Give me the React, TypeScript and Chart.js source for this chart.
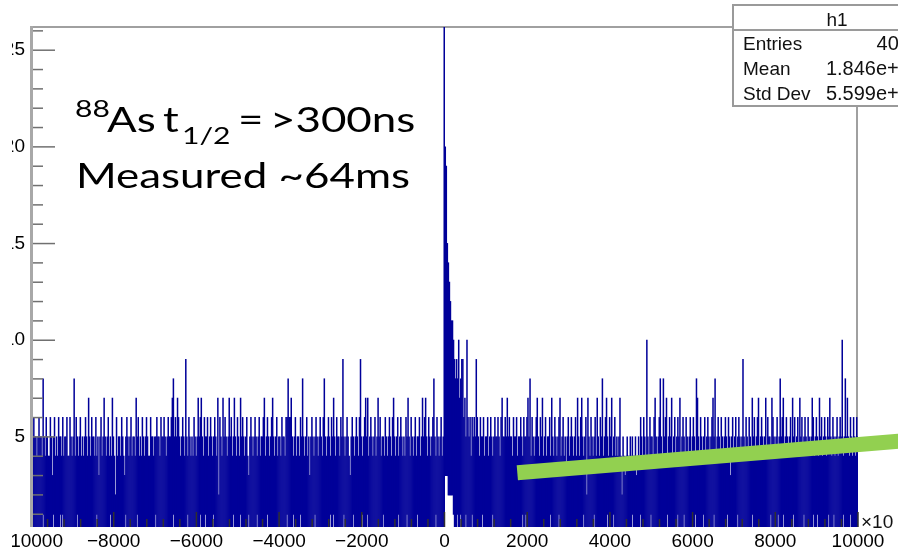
import React, { useEffect, useRef } from 'react';
import { Chart, registerables } from 'chart.js';

Chart.register(...registerables);

// ---- axis ranges -------------------------------------------------------
const X_MIN = -10000;
const X_MAX = 10000;
const Y_MIN = 0.34;
const Y_MAX = 26.2;

// ---- histogram h1: counts per 25-unit bin ------------------------------
// bins -10000 .. -5000
const countsLeftA = [
  5,5,6,5,5,4,5,6,5,5, 4,8,5,4,6,5,4,4,6,5, 3,5,6,4,5,4,6,5,5,4, 6,4,5,5,6,4,4,6,5,4,
  5,8,4,6,5,4,5,6,4,5, 4,5,6,5,4,7,5,4,6,5, 5,4,6,4,5,3,5,6,4,5, 7,5,4,5,6,4,5,4,7,5,
  4,2,6,4,5,5,4,6,5,4, 3,5,6,5,4,5,6,4,5,5, 4,7,5,6,4,5,4,6,5,4, 5,6,5,4,4,6,5,5,4,5,
  5,6,5,5,4,6,5,5,6,5, 4,5,6,5,5,6,7,8,5,6, 5,7,6,5,4,5,6,5,4,9, 5,4,6,5,4,5,4,6,5,4,
  5,7,5,6,7,5,4,6,5,5, 6,4,5,6,5,4,5,6,5,4, 7,2,6,5,4,7,5,6,5,4, 5,7,5,6,4,5,7,5,4,6,
];
// bins -5000 .. 0
const countsLeftB = [
  5,4,7,5,6,5,4,5,6,4, 3,5,6,5,4,5,6,5,4,5, 6,4,5,5,6,7,4,5,6,5, 4,5,6,7,5,4,5,6,4,5,
  5,4,6,5,5,4,6,6,8,6, 6,7,5,4,5,6,4,5,5,4, 6,5,8,5,4,5,6,4,5,3, 5,6,5,4,5,6,5,4,5,6,
  5,4,6,8,5,4,5,6,5,4, 6,5,7,5,4,6,5,5,4,6, 5,9,5,4,5,6,5,4,3,5, 6,5,4,5,6,5,4,6,9,5,
  4,5,6,7,5,7,4,5,6,5, 4,5,6,4,5,7,5,6,4,5, 5,4,6,5,4,5,6,5,4,6, 7,5,4,5,6,4,5,6,5,4,
  5,4,6,5,7,5,4,6,5,4, 5,6,4,5,5,6,4,5,7,5, 6,7,5,4,6,5,4,5,6,8, 5,4,6,5,4,5,6,4,5,28,
];
// bins 0 .. 5000
const countsRightA = [
  20,19,15,14,13,12,11,11,10,9, 8,9,8,10,7,8,9,9,6,7, 5,10,6,5,6,4,6,5,6,5, 9,6,5,4,6,5,5,6,4,5,
  5,6,4,5,6,5,4,5,6,5, 5,6,5,4,6,7,5,5,6,5, 7,5,6,5,5,4,6,5,5,6, 4,5,5,6,5,4,6,5,5,6,
  7,5,8,4,6,5,4,5,6,7, 5,4,6,5,7,4,5,6,4,5, 5,6,4,7,5,4,6,5,4,5, 6,7,4,5,6,4,5,3,5,6,
  4,5,6,5,4,5,6,4,7,5, 4,6,7,5,4,5,6,2,7,5, 4,6,5,4,5,6,4,7,5,4, 6,5,8,4,5,6,7,5,4,6,
  5,7,4,5,6,4,5,4,5,7, 4,2,5,4,3,4,5,4,4,5, 4,5,4,4,5,3,4,5,4,6, 5,4,6,5,4,10,5,4,6,5,
];
// bins 5000 .. 10000
const countsRightB = [
  5,4,6,7,5,4,5,6,8,5, 4,8,5,6,7,4,5,6,5,7, 4,5,6,4,5,6,5,7,4,5, 6,5,4,6,5,4,5,6,4,5,
  6,5,4,8,7,5,4,6,5,4, 5,6,4,5,6,5,4,5,6,7, 5,8,4,5,6,5,4,6,5,4, 5,6,5,4,6,5,3,5,6,4,
  5,6,4,5,6,5,4,5,9,5, 4,6,5,4,6,5,4,7,5,6, 4,5,6,7,4,5,6,5,4,5, 7,4,6,5,5,4,7,6,5,4,
  5,6,4,5,8,5,6,7,4,5, 6,5,4,5,6,4,7,5,6,4, 5,6,4,7,5,6,4,5,6,5, 4,6,5,4,5,7,6,4,5,6,
  5,4,7,5,6,4,5,6,5,4, 6,5,7,5,4,6,5,4,5,6, 4,5,6,5,10,4,5,8,5,7, 5,4,6,5,4,6,5,4,6,5,
];

// bins whose fill starts above the axis floor (white notches at the bottom)
const bottomGapX = [
  -9976, -9710, -9468, -9298, -9226, -8887, -8403, -8088, -7725, -7435, -6999, -6564,
  -6225, -5910, -5789, -5596, -5112, -4942, -4749, -4531, -4289, -3805, -3660, -3490,
  -3127, -2764, -2692, -2450, -2208, -1990, -1869, -1482, -1119, -901, -659, -223,
  212, 309, 382, 503, 672, 914, 1156, 1882, 1955, 2560, 2753, 3358, 3600, 3939, 4084,
  4544, 4738, 4980, 5391, 5633, 5778, 6069, 6262, 6504, 6843, 7085, 7448, 7884, 8053,
  8198, 8440, 8682, 8900, 9021, 9287, 9408, 9626, 9820,
];
const deepGapX = [0, 25, 50, 75, 100, 125, 150, 175];
const deepGapTop = [3, 3, 3, 2, 2, 2, 2, 2];

// hand-drawn green trend line (data units)
const trendX = [1761, 12000];
const trendY = [3.15, 4.96];

// axis tick labels
const xTickValues = [-10000, -8000, -6000, -4000, -2000, 0, 2000, 4000, 6000, 8000, 10000];
const yTickValues = [5, 10, 15, 20, 25];

// stats box
const statsTitle = 'h1';
const statsNames = ['Entries', 'Mean', 'Std Dev'];
const statsValues = ['4012', '1.846e+02', '5.599e+03'];

// annotation text pieces: [text, page x, size (big/small), baseline]
const notePieces: [string, number, 'big' | 'small', number][] = [
  ['88', 75, 'small', 117],
  ['As', 107, 'big', 132],
  ['t', 163, 'big', 132],
  ['1/2', 182, 'small', 144],
  ['=', 238, 'big', 132],
  ['>300ns', 270, 'big', 132],
];
const noteLine2 = 'Measured ~64ms';
const axisExponent = '\u00d710';

const OX = 30; // canvas x = page x + OX
const CW = 988;
const CH = 553;
const ROOT_FONT = 'Liberation Sans, Arial, Helvetica, sans-serif';

function line(ctx: CanvasRenderingContext2D, x1: number, y1: number, x2: number, y2: number) {
  ctx.beginPath();
  ctx.moveTo(x1, y1);
  ctx.lineTo(x2, y2);
  ctx.stroke();
}

const decorPlugin = {
  id: 'rootDecor',
  beforeDraw(chart: any) {
    const { ctx, width, height } = chart;
    ctx.save();
    ctx.fillStyle = '#ffffff';
    ctx.fillRect(0, 0, width, height);
    ctx.restore();
  },
  beforeDatasetsDraw(chart: any) {
    const { ctx, chartArea: a } = chart;
    ctx.save();
    ctx.strokeStyle = '#a0a0a0';
    ctx.lineWidth = 2;
    ctx.beginPath();
    ctx.moveTo(a.left, a.top);
    ctx.lineTo(a.right - 1, a.top);
    ctx.lineTo(a.right - 1, a.bottom);
    ctx.stroke();
    ctx.restore();
  },
  afterDatasetsDraw(chart: any) {
    const { ctx, chartArea: a, scales } = chart;
    const ys = scales.y;
    const xs = scales.xl;
    ctx.save();

    // y ticks (inside the frame, ROOT style)
    ctx.strokeStyle = '#707070';
    ctx.lineWidth = 1.5;
    for (let v = Math.ceil(Y_MIN); v <= Y_MAX; v++) {
      const py = ys.getPixelForValue(v);
      const len = v % 5 === 0 ? 24 : 12;
      line(ctx, a.left, py, a.left + len, py);
    }
    // x ticks
    ctx.strokeStyle = '#303030';
    for (let v = X_MIN; v <= X_MAX; v += 400) {
      const px = xs.getPixelForValue(v);
      const len = v % 2000 === 0 ? 15 : 8;
      line(ctx, px, a.bottom, px, a.bottom - len);
    }
    // left axis line
    ctx.strokeStyle = '#a8a8a8';
    ctx.lineWidth = 3;
    line(ctx, a.left + 0.5, a.top - 1, a.left + 0.5, a.bottom);

    // x10 exponent marker
    ctx.fillStyle = '#111';
    ctx.font = `19px ${ROOT_FONT}`;
    ctx.textBaseline = 'alphabetic';
    ctx.textAlign = 'left';
    ctx.fillText(axisExponent, a.right + 3, a.bottom + 1);

    // stats box
    const sx0 = 733 + OX, sx1 = 941 + OX, sy0 = 5, sy1 = 106, sh = 30;
    const valueRight = 921 + OX;
    ctx.fillStyle = '#ffffff';
    ctx.fillRect(sx0, sy0, sx1 - sx0, sy1 - sy0);
    ctx.strokeStyle = '#9a9a9a';
    ctx.lineWidth = 2;
    ctx.strokeRect(sx0, sy0, sx1 - sx0, sy1 - sy0);
    line(ctx, sx0, sh, sx1, sh);
    ctx.fillStyle = '#111';
    ctx.textAlign = 'center';
    ctx.fillText(statsTitle, (sx0 + sx1) / 2, 26);
    statsNames.forEach((name, i) => {
      const by = 50 + i * 25;
      ctx.font = `19px ${ROOT_FONT}`;
      ctx.textAlign = 'left';
      ctx.fillText(name, sx0 + 10, by);
      ctx.font = `20px ${ROOT_FONT}`;
      ctx.textAlign = 'right';
      ctx.fillText(statsValues[i], valueRight, by);
    });

    // annotation
    const fonts = {
      big: '35px Lato, "Open Sans", sans-serif',
      small: '24px Lato, "Open Sans", sans-serif',
    };
    ctx.font = fonts.big;
    const w2 = ctx.measureText(noteLine2).width;
    const kx = 334 / w2;
    ctx.fillStyle = '#000';
    ctx.textAlign = 'left';
    ctx.save();
    ctx.translate(76 + OX, 0);
    ctx.scale(kx, 1);
    ctx.fillText(noteLine2, 0, 188);
    ctx.restore();
    notePieces.forEach(([text, px, size, by]) => {
      ctx.save();
      ctx.font = fonts[size];
      ctx.translate(px + OX, 0);
      ctx.scale(kx, 1);
      ctx.fillText(text, 0, by);
      ctx.restore();
    });

    ctx.restore();
  },
};

export default function App() {
  const ref = useRef<HTMLCanvasElement>(null);

  useEffect(() => {
    const canvas = ref.current;
    if (!canvas) return;
    const counts = [...countsLeftA, ...countsLeftB, ...countsRightA, ...countsRightB];
    const n = counts.length;
    const binW = (X_MAX - X_MIN) / n;
    const base = new Array(n).fill(0);
    const binOf = (x: number) => Math.min(n - 1, Math.max(0, Math.floor((x - X_MIN) / binW)));
    bottomGapX.forEach((x) => { base[binOf(x)] = 1; });
    deepGapX.forEach((x, k) => { base[binOf(x)] = deepGapTop[k]; });
    const labels = counts.map((_, i) => String(X_MIN + binW * (i + 0.5)));
    const bars = counts.map((v, i) => [base[i], v]);
    const trend = trendX.map((x, i) => ({ x, y: trendY[i] }));

    const chart = new Chart(canvas, {
      type: 'bar',
      data: {
        labels,
        datasets: [
          {
            type: 'line',
            label: 'trend',
            data: trend as any,
            xAxisID: 'xl',
            yAxisID: 'y',
            borderColor: '#92D050',
            backgroundColor: '#92D050',
            borderWidth: 15,
            borderCapStyle: 'butt',
            pointRadius: 0,
            fill: false,
            tension: 0,
            clip: false as any,
            order: 0,
          } as any,
          {
            type: 'bar',
            label: 'h1',
            data: bars as any,
            xAxisID: 'x',
            yAxisID: 'y',
            backgroundColor: '#000099',
            borderWidth: 0,
            barPercentage: 1,
            categoryPercentage: 1,
            inflateAmount: 0.5,
            clip: 0 as any,
            order: 1,
          } as any,
        ],
      },
      options: {
        animation: false,
        responsive: false,
        maintainAspectRatio: false,
        devicePixelRatio: 1,
        events: [],
        layout: { padding: { top: 27, right: 100, left: 0, bottom: 0 } },
        plugins: { legend: { display: false }, tooltip: { enabled: false } },
        scales: {
          x: {
            type: 'category',
            display: false,
            offset: true,
            grid: { display: false },
          },
          xl: {
            type: 'linear',
            position: 'bottom',
            min: X_MIN,
            max: X_MAX,
            offset: false,
            grid: { display: false, drawTicks: false, offset: false },
            border: { display: false },
            afterBuildTicks: (s: any) => { s.ticks = xTickValues.map((v) => ({ value: v })); },
            afterFit: (s: any) => { s.height = 26; },
            ticks: {
              autoSkip: false,
              maxRotation: 0,
              padding: 3,
              color: '#000',
              font: { family: ROOT_FONT, size: 19 },
              callback: (v: any) => {
                const num = Number(v);
                return num < 0 ? '\u2212' + Math.abs(num) : String(num);
              },
            },
          },
          y: {
            type: 'linear',
            min: Y_MIN,
            max: Y_MAX,
            grid: { display: false, drawTicks: false },
            border: { display: false },
            afterBuildTicks: (s: any) => { s.ticks = yTickValues.map((v) => ({ value: v })); },
            afterFit: (s: any) => { s.width = 31 + OX; },
            ticks: {
              padding: 6,
              color: '#000',
              font: { family: ROOT_FONT, size: 19 },
              callback: (v: any) => String(v),
            },
          },
        },
      } as any,
      plugins: [decorPlugin as any],
    });
    return () => chart.destroy();
  }, []);

  return (
    <div
      style={{
        position: 'fixed',
        left: 12,
        top: 0,
        width: 886,
        height: 553,
        overflow: 'hidden',
        background: '#fff',
      }}
    >
      <canvas
        ref={ref}
        width={CW}
        height={CH}
        style={{ position: 'absolute', left: -(OX + 12), top: 0, width: CW, height: CH }}
      />
    </div>
  );
}
